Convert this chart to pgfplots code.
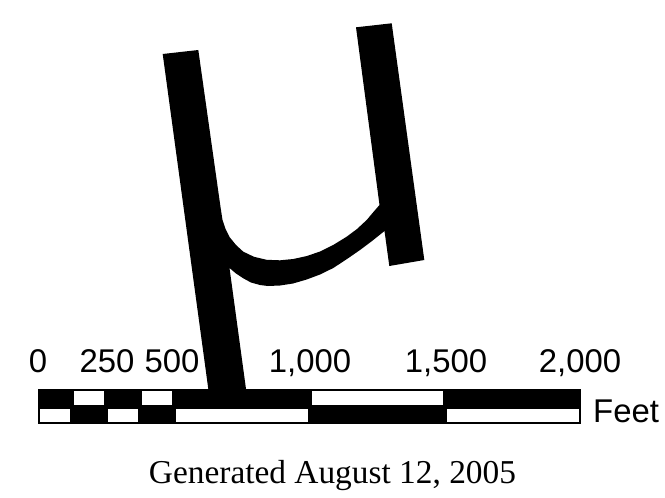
\documentclass[border=0pt]{standalone}
\usepackage{pgfplots}
\pgfplotsset{compat=1.18}
\usepackage{fontspec}
\setmainfont{Liberation Sans}
\newfontfamily\seriffont{Liberation Serif}
\begin{document}
\begin{tikzpicture}
\begin{axis}[scale only axis, width=665bp, height=498bp,
  xmin=0, xmax=665, ymin=0, ymax=498, y dir=reverse,
  hide axis, clip=false]
\addplot[draw=none, forget plot] coordinates {(0,0) (665,498)};
% scale bar frame
\addplot[fill=black, draw=none, forget plot] coordinates {(38,388.5) (581,388.5) (581,423.5) (38,423.5)} -- cycle;
% top row white cells
\addplot[fill=white, draw=none, forget plot] coordinates {(74,390.5) (104,390.5) (104,405) (74,405)} -- cycle;
\addplot[fill=white, draw=none, forget plot] coordinates {(142,390.5) (172,390.5) (172,405) (142,405)} -- cycle;
\addplot[fill=white, draw=none, forget plot] coordinates {(311.5,390.5) (443,390.5) (443,405) (311.5,405)} -- cycle;
% bottom row white cells
\addplot[fill=white, draw=none, forget plot] coordinates {(40,409) (70,409) (70,421.5) (40,421.5)} -- cycle;
\addplot[fill=white, draw=none, forget plot] coordinates {(108,409) (138,409) (138,421.5) (108,421.5)} -- cycle;
\addplot[fill=white, draw=none, forget plot] coordinates {(176,409) (307.5,409) (307.5,421.5) (176,421.5)} -- cycle;
\addplot[fill=white, draw=none, forget plot] coordinates {(447,409) (579,409) (579,421.5) (447,421.5)} -- cycle;
% north arrow glyph
\addplot[fill=black, draw=none, forget plot] coordinates {
(162.7,54) (198.3,50) (220.5,207)
(222.5,220) (225.5,229) (229.5,237) (236,245) (243.3,251.7) (254,256.8) (266.7,259.8)
(280,260.3) (293.3,259) (307,256) (320,251.5) (334,244.5) (346.7,236.7) (357,229)
(366.7,220) (373,212.5) (379.5,205)
(356,27.3) (391.7,23.3) (424.3,260) (389.3,266) (384.5,231)
(372,241) (360,250) (347,259) (333.3,268) (320,274.5) (306.7,279.5) (293,283.5)
(280,285.5) (268,286) (260,285) (251,282.5) (243.3,278.3) (236,273.5) (229.5,268)
(246,389) (208.3,389)} -- cycle;
% labels
\node[anchor=base, inner sep=0, font=\fontsize{33}{33}\selectfont] at (axis cs:38,372) {0};
\node[anchor=base, inner sep=0, font=\fontsize{33}{33}\selectfont] at (axis cs:107,372) {250};
\node[anchor=base, inner sep=0, font=\fontsize{33}{33}\selectfont] at (axis cs:172,372) {500};
\node[anchor=base, inner sep=0, font=\fontsize{33}{33}\selectfont] at (axis cs:310,372) {1,000};
\node[anchor=base, inner sep=0, font=\fontsize{33}{33}\selectfont] at (axis cs:446,372) {1,500};
\node[anchor=base, inner sep=0, font=\fontsize{33}{33}\selectfont] at (axis cs:580,372) {2,000};
\node[anchor=base west, inner sep=0, font=\fontsize{33}{33}\selectfont] at (axis cs:593,422) {Feet};
\node[anchor=base, inner sep=0, font=\seriffont\fontsize{33.5}{33.5}\selectfont] at (axis cs:332.5,483) {Generated August 12, 2005};
\end{axis}
\end{tikzpicture}
\end{document}
